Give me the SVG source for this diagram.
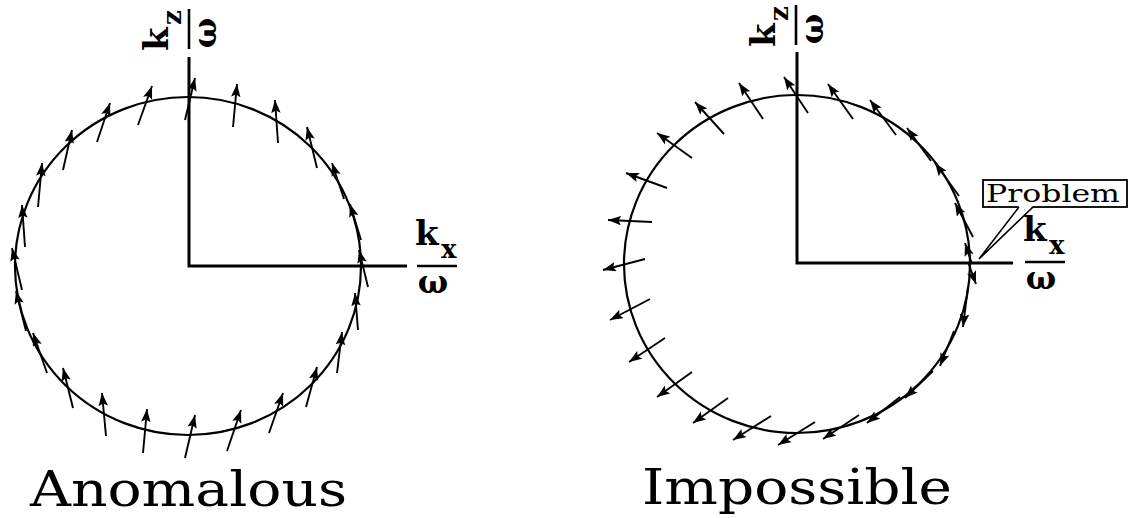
<svg xmlns="http://www.w3.org/2000/svg" width="1130" height="518" viewBox="0 0 1130 518">
<style>
.axis{stroke:#000;stroke-width:3;fill:none}
.circ{stroke:#000;stroke-width:2.2;fill:none}
.arr{stroke:#000;stroke-width:1.9;fill:none;marker-end:url(#ah)}
.lbl{font-family:"DejaVu Serif","Liberation Serif",serif;font-weight:bold;fill:#000}
.k{font-size:34px}
.sub{font-size:26px}
.w{font-size:32px}
.bar{stroke:#000;stroke-width:2.6}
.title{font-family:"DejaVu Serif","Liberation Serif",serif;fill:#000}
</style>
<defs>
<marker id="ah" markerUnits="userSpaceOnUse" markerWidth="14" markerHeight="10" refX="13" refY="4.75" orient="auto">
<path d="M0,0 L13,4.75 L0,9.5 L2.5,4.75 z" fill="#000"/>
</marker>
<g id="frac">
<text class="lbl k" x="-22" y="-21">k</text>
<text class="lbl sub" x="4" y="-8">x</text>
<line class="bar" x1="-20" y1="0" x2="20" y2="0"/>
<text class="lbl w" x="-4" y="27" text-anchor="middle">ω</text>
</g>
<g id="fracz">
<text class="lbl k" x="-22" y="-21">k</text>
<text class="lbl sub" x="4" y="-8">z</text>
<line class="bar" x1="-20" y1="0" x2="20" y2="0"/>
<text class="lbl w" x="-4" y="27" text-anchor="middle">ω</text>
</g>
</defs>
<rect width="1130" height="518" fill="#fff"/>

<g id="left-panel">
<g id="left-axes">
<polyline class="axis" points="189,57 189,266 407,266"/>
</g>
<g id="left-circle"><ellipse class="circ" cx="188" cy="266" rx="173" ry="169"/></g>
<g id="left-kz-label"><use href="#fracz" transform="translate(189,29) rotate(-90)"/></g>
<g id="left-kx-label"><use href="#frac" transform="translate(437,266)"/></g>
<g id="left-title"><text class="title" x="30" y="506" font-size="49" textLength="317" lengthAdjust="spacingAndGlyphs">Anomalous</text></g>
</g>

<g id="right-panel">
<g id="right-axes">
<polyline class="axis" points="797,52 797,263 1013,263"/>
</g>
<g id="right-circle"><ellipse class="circ" cx="797" cy="264" rx="173" ry="169"/></g>
<g id="right-kz-label"><use href="#fracz" transform="translate(796,25) rotate(-90)"/></g>
<g id="right-kx-label"><use href="#frac" transform="translate(1045,262)"/></g>
<g id="right-title"><text class="title" x="642" y="504" font-size="48" textLength="310" lengthAdjust="spacingAndGlyphs">Impossible</text></g>
<g id="problem-callout">
<rect x="983" y="180" width="144" height="27" fill="#fff" stroke="#000" stroke-width="1.8"/>
<polygon points="1019,206 979,259 1033,206" fill="#fff" stroke="none"/>
<polyline points="1019,207 979,259 1033,207" fill="none" stroke="#000" stroke-width="1.6"/>
<text class="title" x="986" y="202" font-size="25" textLength="134" lengthAdjust="spacingAndGlyphs">Problem</text>
</g>
</g>

<g id="connectors">
<g id="left-arrows">
<line class="arr" x1="185" y1="120" x2="195" y2="78"/>
<line class="arr" x1="138" y1="125" x2="152" y2="86"/>
<line class="arr" x1="97" y1="142" x2="110" y2="103"/>
<line class="arr" x1="63" y1="170" x2="72" y2="130"/>
<line class="arr" x1="38" y1="207" x2="42" y2="163"/>
<line class="arr" x1="25" y1="247" x2="22" y2="205"/>
<line class="arr" x1="22" y1="290" x2="12" y2="248"/>
<line class="arr" x1="26" y1="331" x2="16" y2="291"/>
<line class="arr" x1="47" y1="373" x2="33" y2="333"/>
<line class="arr" x1="73" y1="408" x2="63" y2="368"/>
<line class="arr" x1="106" y1="436" x2="102" y2="393"/>
<line class="arr" x1="143" y1="453" x2="147" y2="409"/>
<line class="arr" x1="185" y1="458" x2="195" y2="415"/>
<line class="arr" x1="227" y1="451" x2="241" y2="410"/>
<line class="arr" x1="269" y1="433" x2="283" y2="393"/>
<line class="arr" x1="306" y1="407" x2="317" y2="367"/>
<line class="arr" x1="337" y1="373" x2="342" y2="332"/>
<line class="arr" x1="358" y1="330" x2="355" y2="293"/>
<line class="arr" x1="368" y1="287" x2="359" y2="250"/>
<line class="arr" x1="361" y1="240" x2="350" y2="204"/>
<line class="arr" x1="344" y1="199" x2="332" y2="163"/>
<line class="arr" x1="317" y1="168" x2="307" y2="127"/>
<line class="arr" x1="278" y1="143" x2="275" y2="100"/>
<line class="arr" x1="233" y1="127" x2="237" y2="84"/>
</g>
<g id="right-arrows">
<line class="arr" x1="808" y1="113" x2="784" y2="77"/>
<line class="arr" x1="763" y1="119" x2="739" y2="83"/>
<line class="arr" x1="724" y1="134" x2="695" y2="102"/>
<line class="arr" x1="692" y1="158" x2="657" y2="133"/>
<line class="arr" x1="667" y1="188" x2="626" y2="173"/>
<line class="arr" x1="652" y1="222" x2="608" y2="220"/>
<line class="arr" x1="645" y1="259" x2="603" y2="270"/>
<line class="arr" x1="650" y1="299" x2="610" y2="320"/>
<line class="arr" x1="665" y1="338" x2="629" y2="362"/>
<line class="arr" x1="692" y1="372" x2="657" y2="397"/>
<line class="arr" x1="728" y1="398" x2="693" y2="423"/>
<line class="arr" x1="771" y1="416" x2="733" y2="440"/>
<line class="arr" x1="815" y1="422" x2="778" y2="445"/>
<line class="arr" x1="859" y1="415" x2="823" y2="439"/>
<line class="arr" x1="900" y1="397" x2="867" y2="423"/>
<line class="arr" x1="933" y1="371" x2="905" y2="398"/>
<line class="arr" x1="954" y1="331" x2="940" y2="366"/>
<line class="arr" x1="968" y1="287" x2="963" y2="327"/>
<line class="arr" x1="968" y1="262" x2="976" y2="284"/>
<line class="arr" x1="972" y1="264" x2="965" y2="243"/>
<line class="arr" x1="973" y1="237" x2="955" y2="203"/>
<line class="arr" x1="959" y1="196" x2="935" y2="163"/>
<line class="arr" x1="931" y1="161" x2="907" y2="128"/>
<line class="arr" x1="896" y1="135" x2="870" y2="100"/>
<line class="arr" x1="853" y1="119" x2="828" y2="84"/>
</g>
</g>
</svg>
